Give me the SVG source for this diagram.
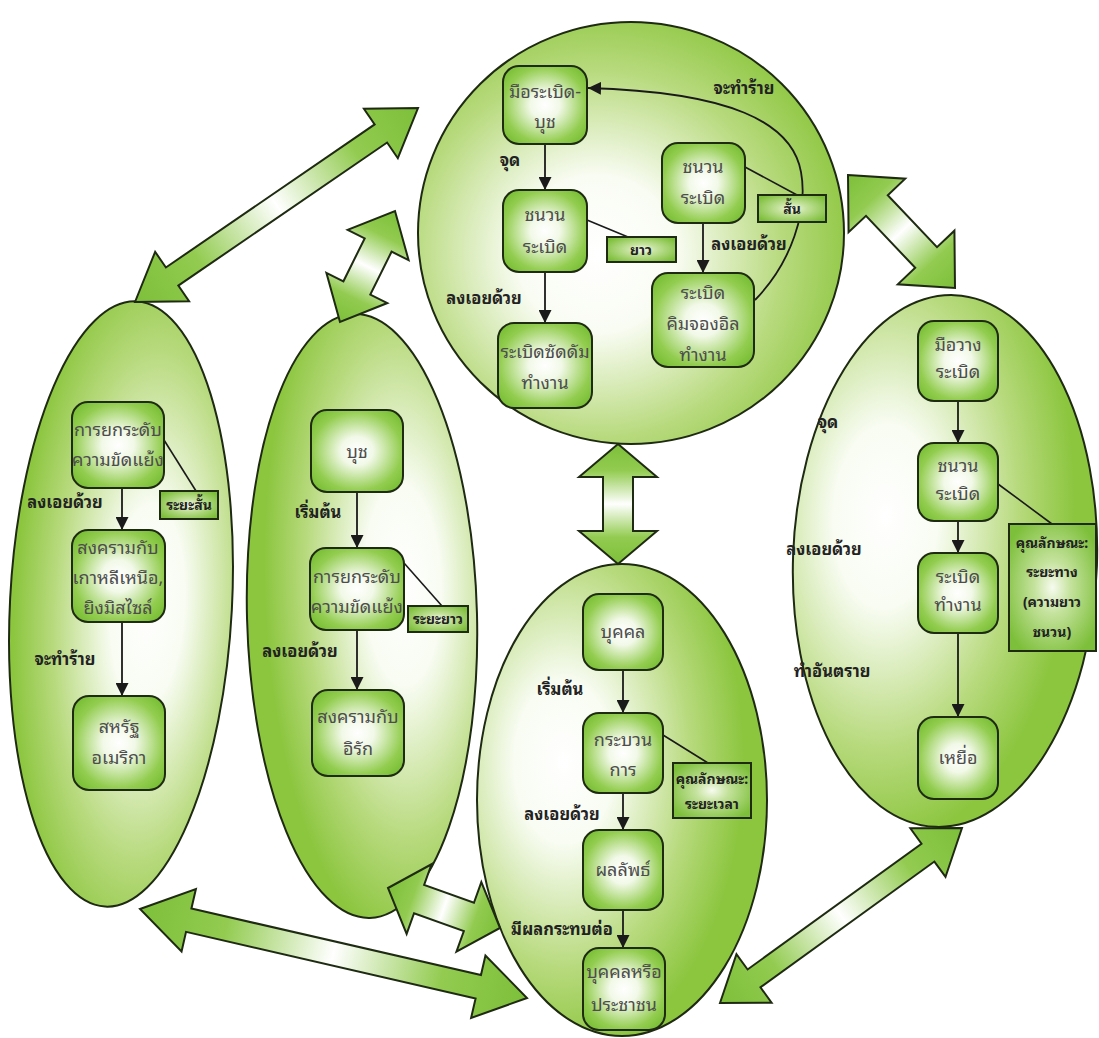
<svg xmlns="http://www.w3.org/2000/svg" width="1099" height="1038" viewBox="0 0 1099 1038">
<defs>
<radialGradient id="gTop" cx="0.42" cy="0.55" r="0.62"><stop offset="0" stop-color="#ffffff"/><stop offset="0.3" stop-color="#f9fcf3"/><stop offset="0.7" stop-color="#b8da7e"/><stop offset="1" stop-color="#8cc63f"/></radialGradient>
<radialGradient id="gLeft" cx="0.62" cy="0.5" r="0.6"><stop offset="0" stop-color="#ffffff"/><stop offset="0.28" stop-color="#f8fcf2"/><stop offset="0.7" stop-color="#b8da7e"/><stop offset="1" stop-color="#8cc63f"/></radialGradient>
<radialGradient id="gMid" cx="0.68" cy="0.45" r="0.6"><stop offset="0" stop-color="#ffffff"/><stop offset="0.28" stop-color="#f8fcf2"/><stop offset="0.7" stop-color="#b8da7e"/><stop offset="1" stop-color="#8cc63f"/></radialGradient>
<radialGradient id="gBot" cx="0.3" cy="0.42" r="0.62"><stop offset="0" stop-color="#ffffff"/><stop offset="0.28" stop-color="#f8fcf2"/><stop offset="0.7" stop-color="#b8da7e"/><stop offset="1" stop-color="#8cc63f"/></radialGradient>
<radialGradient id="gRight" cx="0.3" cy="0.42" r="0.62"><stop offset="0" stop-color="#ffffff"/><stop offset="0.28" stop-color="#f8fcf2"/><stop offset="0.7" stop-color="#b8da7e"/><stop offset="1" stop-color="#8cc63f"/></radialGradient>
<radialGradient id="gBox" cx="0.5" cy="0.5" r="0.62"><stop offset="0" stop-color="#ffffff"/><stop offset="0.28" stop-color="#f2f9e8"/><stop offset="0.78" stop-color="#93cd50"/><stop offset="1" stop-color="#7abf36"/></radialGradient>
<radialGradient id="gTag" cx="0.5" cy="0.5" r="0.6"><stop offset="0" stop-color="#f7fbef"/><stop offset="0.35" stop-color="#c4e29c"/><stop offset="1" stop-color="#7dbf3a"/></radialGradient>
<linearGradient id="gArrow" x1="0" y1="0" x2="1" y2="0"><stop offset="0" stop-color="#7dbf3a"/><stop offset="0.22" stop-color="#92cb50"/><stop offset="0.5" stop-color="#ffffff"/><stop offset="0.78" stop-color="#92cb50"/><stop offset="1" stop-color="#7dbf3a"/></linearGradient>
<marker id="ah" viewBox="0 0 10 10" refX="10" refY="5" markerWidth="13" markerHeight="13" markerUnits="userSpaceOnUse" orient="auto"><path d="M0,0 L10,5 L0,10 z" fill="#1a1a1a"/></marker>
</defs>
<style>
.cl{stroke:#1e2a12;stroke-width:2}
.box{fill:url(#gBox);stroke:#1e2a12;stroke-width:2}
.tag{fill:url(#gTag);stroke:#1e2a12;stroke-width:2}
.blk{fill:url(#gArrow);stroke:#1e2a12;stroke-width:2;stroke-linejoin:miter}
.ln{stroke:#1a1a1a;stroke-width:1.6;fill:none}
.ar{stroke:#1a1a1a;stroke-width:1.8;fill:none;marker-end:url(#ah)}
.bt{font-family:"Noto Sans Thai Looped","Noto Sans Thai","Noto Sans","DejaVu Sans",sans-serif;font-size:18px;fill:#4d4d4d;text-anchor:middle}
.lb{font-family:"Noto Sans Thai Looped","Noto Sans Thai","Noto Sans","DejaVu Sans",sans-serif;font-size:16.5px;font-weight:bold;fill:#222;text-anchor:middle}
.tt{font-family:"Noto Sans Thai Looped","Noto Sans Thai","Noto Sans","DejaVu Sans",sans-serif;font-size:14px;font-weight:bold;fill:#222;text-anchor:middle}
</style>
<rect width="1099" height="1038" fill="#ffffff"/>
<g id="clusters">
<ellipse id="cluster-top" class="cl" cx="631" cy="233" rx="213" ry="211" fill="url(#gTop)"/>
<ellipse id="cluster-left" class="cl" cx="121" cy="604" rx="111" ry="303" fill="url(#gLeft)" transform="rotate(3 121 604)"/>
<ellipse id="cluster-mid" class="cl" cx="362" cy="616" rx="115" ry="302" fill="url(#gMid)" transform="rotate(-1.5 362 616)"/>
<ellipse id="cluster-bottom" class="cl" cx="622" cy="800" rx="145" ry="236" fill="url(#gBot)"/>
<ellipse id="cluster-right" class="cl" cx="945" cy="561" rx="152" ry="266" fill="url(#gRight)" transform="rotate(2 945 561)"/>
</g>
<g id="connectors">
<polygon class="blk" transform="translate(135 302) rotate(-34.43)" points="0,0 45,-30 45,-11 298.1,-11 298.1,-30 343.1,0 298.1,30 298.1,11 45,11 45,30"/>
<polygon class="blk" transform="translate(340 322) rotate(-63.65)" points="0,0 38,-34 38,-15 85.9,-15 85.9,-34 123.9,0 85.9,34 85.9,15 38,15 38,34"/>
<polygon class="blk" transform="translate(618 444) rotate(90)" points="0,0 33,-39 33,-15 87,-15 87,-39 120,0 87,39 87,15 33,15 33,39"/>
<polygon class="blk" transform="translate(848 175) rotate(46.56)" points="0,0 42,-39 42,-15 113.6,-15 113.6,-39 155.6,0 113.6,39 113.6,15 42,15 42,39"/>
<polygon class="blk" transform="translate(140 909) rotate(12.95)" points="0,0 50,-32 50,-12 347.1,-12 347.1,-32 397.1,0 347.1,32 347.1,12 50,12 50,32"/>
<polygon class="blk" transform="translate(388 888) rotate(19.65)" points="0,0 33,-37 33,-15 85.9,-15 85.9,-37 118.9,0 85.9,37 85.9,15 33,15 33,37"/>
<polygon class="blk" transform="translate(720 1003) rotate(-35.87)" points="0,0 42,-30 42,-11 256.6,-11 256.6,-30 298.6,0 256.6,30 256.6,11 42,11 42,30"/>

<line class="ar" x1="545" y1="144" x2="545" y2="190"/>
<text class="lb" x="510" y="166">จุด</text>
<line class="ar" x1="545" y1="272" x2="545" y2="323"/>
<text class="lb" x="484" y="304">ลงเอยด้วย</text>
<line class="ar" x1="703" y1="223" x2="703" y2="273"/>
<text class="lb" x="749" y="250">ลงเอยด้วย</text>
<path class="ar" d="M 755 300 C 792 262, 808 210, 801 172 C 792 122, 730 92, 588 88"/>
<text class="lb" x="744" y="94">จะทำร้าย</text>
<line class="ln" x1="587" y1="220" x2="628" y2="237"/>
<line class="ln" x1="745" y1="167" x2="797" y2="195"/>

<line class="ar" x1="122" y1="488" x2="122" y2="530"/>
<text class="lb" x="65" y="508">ลงเอยด้วย</text>
<line class="ar" x1="122" y1="622" x2="122" y2="696"/>
<text class="lb" x="65" y="665">จะทำร้าย</text>
<line class="ln" x1="164" y1="440" x2="196" y2="491"/>

<line class="ar" x1="357" y1="492" x2="357" y2="548"/>
<text class="lb" x="318" y="518">เริ่มต้น</text>
<line class="ar" x1="357" y1="630" x2="357" y2="690"/>
<text class="lb" x="300" y="657">ลงเอยด้วย</text>
<line class="ln" x1="404" y1="563" x2="442" y2="606"/>

<line class="ar" x1="623" y1="670" x2="623" y2="713"/>
<text class="lb" x="560" y="695">เริ่มต้น</text>
<line class="ar" x1="623" y1="793" x2="623" y2="830"/>
<text class="lb" x="562" y="820">ลงเอยด้วย</text>
<line class="ar" x1="623" y1="910" x2="623" y2="948"/>
<text class="lb" x="562" y="935">มีผลกระทบต่อ</text>
<line class="ln" x1="663" y1="735" x2="708" y2="763"/>

<line class="ar" x1="958" y1="401" x2="958" y2="443"/>
<text class="lb" x="828" y="428">จุด</text>
<line class="ar" x1="958" y1="521" x2="958" y2="553"/>
<text class="lb" x="824" y="555">ลงเอยด้วย</text>
<line class="ar" x1="958" y1="633" x2="958" y2="717"/>
<text class="lb" x="832" y="677">ทำอันตราย</text>
<line class="ln" x1="998" y1="484" x2="1052" y2="524"/>
</g>

<g id="node-top-bomber"><rect class="box" x="503" y="66" width="84" height="78" rx="16"/><text class="bt" x="545" y="98">มือระเบิด-</text><text class="bt" x="545" y="128">บุช</text></g>
<g id="node-top-fuse-long"><rect class="box" x="503" y="190" width="84" height="82" rx="16"/><text class="bt" x="545" y="221">ชนวน</text><text class="bt" x="545" y="253">ระเบิด</text></g>
<g id="tag-long"><rect class="tag" x="607" y="237" width="69" height="25"/><text class="tt" x="641" y="255">ยาว</text></g>
<g id="node-top-saddam"><rect class="box" x="498" y="323" width="94" height="85" rx="16"/><text class="bt" x="545" y="358">ระเบิดซัดดัม</text><text class="bt" x="545" y="389">ทำงาน</text></g>
<g id="node-top-fuse-short"><rect class="box" x="662" y="143" width="83" height="80" rx="16"/><text class="bt" x="703" y="173">ชนวน</text><text class="bt" x="703" y="204">ระเบิด</text></g>
<g id="tag-short"><rect class="tag" x="758" y="195" width="68" height="27"/><text class="tt" x="792" y="214">สั้น</text></g>
<g id="node-top-kim"><rect class="box" x="652" y="273" width="102" height="94" rx="16"/><text class="bt" x="703" y="299">ระเบิด</text><text class="bt" x="703" y="330">คิมจองอิล</text><text class="bt" x="703" y="361">ทำงาน</text></g>

<g id="node-left-escalate"><rect class="box" x="72" y="402" width="92" height="86" rx="16"/><text class="bt" x="118" y="436">การยกระดับ</text><text class="bt" x="118" y="466">ความขัดแย้ง</text></g>
<g id="tag-left-short"><rect class="tag" x="160" y="491" width="58" height="28"/><text class="tt" x="189" y="510">ระยะสั้น</text></g>
<g id="node-left-korea"><rect class="box" x="72" y="530" width="93" height="92" rx="16"/><text class="bt" x="118" y="554">สงครามกับ</text><text class="bt" x="118" y="584">เกาหลีเหนือ,</text><text class="bt" x="118" y="614">ยิงมิสไซล์</text></g>
<g id="node-left-usa"><rect class="box" x="73" y="696" width="92" height="94" rx="16"/><text class="bt" x="119" y="733">สหรัฐ</text><text class="bt" x="119" y="764">อเมริกา</text></g>

<g id="node-mid-bush"><rect class="box" x="311" y="410" width="92" height="82" rx="16"/><text class="bt" x="357" y="458">บุช</text></g>
<g id="node-mid-escalate"><rect class="box" x="310" y="548" width="94" height="82" rx="16"/><text class="bt" x="357" y="583">การยกระดับ</text><text class="bt" x="357" y="613">ความขัดแย้ง</text></g>
<g id="tag-mid-long"><rect class="tag" x="408" y="606" width="60" height="26"/><text class="tt" x="438" y="624">ระยะยาว</text></g>
<g id="node-mid-iraq"><rect class="box" x="312" y="690" width="92" height="86" rx="16"/><text class="bt" x="358" y="723">สงครามกับ</text><text class="bt" x="358" y="755">อิรัก</text></g>

<g id="node-bot-person"><rect class="box" x="583" y="594" width="80" height="76" rx="16"/><text class="bt" x="623" y="638">บุคคล</text></g>
<g id="node-bot-process"><rect class="box" x="583" y="713" width="80" height="80" rx="16"/><text class="bt" x="623" y="746">กระบวน</text><text class="bt" x="623" y="776">การ</text></g>
<g id="tag-bot-time"><rect class="tag" x="673" y="763" width="78" height="55"/><text class="tt" x="712" y="784">คุณลักษณะ:</text><text class="tt" x="712" y="809">ระยะเวลา</text></g>
<g id="node-bot-result"><rect class="box" x="583" y="830" width="80" height="80" rx="16"/><text class="bt" x="623" y="876">ผลลัพธ์</text></g>
<g id="node-bot-people"><rect class="box" x="583" y="948" width="82" height="82" rx="16"/><text class="bt" x="624" y="978">บุคคลหรือ</text><text class="bt" x="624" y="1011">ประชาชน</text></g>

<g id="node-right-placer"><rect class="box" x="918" y="321" width="80" height="80" rx="16"/><text class="bt" x="958" y="351">มือวาง</text><text class="bt" x="958" y="378">ระเบิด</text></g>
<g id="node-right-fuse"><rect class="box" x="918" y="443" width="80" height="78" rx="16"/><text class="bt" x="958" y="472">ชนวน</text><text class="bt" x="958" y="500">ระเบิด</text></g>
<g id="tag-right-distance"><rect class="tag" x="1009" y="524" width="87" height="127"/><text class="tt" x="1052" y="548">คุณลักษณะ:</text><text class="tt" x="1052" y="577">ระยะทาง</text><text class="tt" x="1052" y="607">(ความยาว</text><text class="tt" x="1052" y="637">ชนวน)</text></g>
<g id="node-right-explode"><rect class="box" x="918" y="553" width="80" height="80" rx="16"/><text class="bt" x="958" y="583">ระเบิด</text><text class="bt" x="958" y="611">ทำงาน</text></g>
<g id="node-right-victim"><rect class="box" x="918" y="717" width="80" height="82" rx="16"/><text class="bt" x="958" y="764">เหยื่อ</text></g>
</svg>
